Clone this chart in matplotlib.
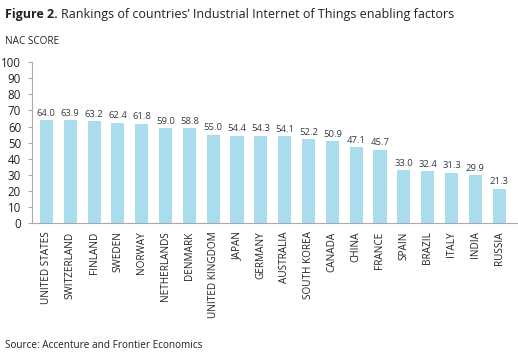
import matplotlib.pyplot as plt

countries = ["UNITED STATES", "SWITZERLAND", "FINLAND", "SWEDEN", "NORWAY",
             "NETHERLANDS", "DENMARK", "UNITED KINGDOM", "JAPAN", "GERMANY",
             "AUSTRALIA", "SOUTH KOREA", "CANADA", "CHINA", "FRANCE",
             "SPAIN", "BRAZIL", "ITALY", "INDIA", "RUSSIA"]
scores = [64.0, 63.9, 63.2, 62.4, 61.8, 59.0, 58.8, 55.0, 54.4, 54.3,
          54.1, 52.2, 50.9, 47.1, 45.7, 33.0, 32.4, 31.3, 29.9, 21.3]
y_ticks = list(range(0, 101, 10))

plt.rcParams['font.family'] = ['Open Sans', 'DejaVu Sans']

fig = plt.figure(figsize=(5.18, 3.57), dpi=100)
ax = fig.add_axes([0.062, 0.375, 0.936, 0.451])

x = range(len(countries))
bars = ax.bar(x, scores, width=0.55, color="#a9dcec")
for xi, v in zip(x, scores):
    ax.text(xi, v + 1.5, f"{v:.1f}", ha="center", va="bottom",
            fontsize=6.8, color="#333d47")

ax.set_xlim(-0.6, 19.75)
ax.set_ylim(0, 100)
ax.set_yticks(y_ticks)
ax.set_xticks(list(x))
ax.set_xticklabels(countries, rotation=90, fontsize=7.2, color="#222222")
ax.tick_params(axis="y", labelsize=8.3, length=3, color="#aaaaaa", width=0.8,
               pad=5, labelcolor="#222222")
ax.tick_params(axis="x", length=0, pad=6)

for s in ["top", "right"]:
    ax.spines[s].set_visible(False)
ax.spines["left"].set_color("#aaaaaa")
ax.spines["bottom"].set_color("#aaaaaa")
ax.spines["left"].set_linewidth(0.8)
ax.spines["bottom"].set_linewidth(0.8)

fig.text(0.01, 0.96, "Figure 2.", fontsize=9, fontweight="bold",
         color="#222222", va="center")
fig.text(0.118, 0.96, "Rankings of countries\u2019 Industrial Internet of Things enabling factors",
         fontsize=9, color="#222222", va="center")
fig.text(0.01, 0.883, "NAC SCORE", fontsize=7.2, color="#222222", va="center")
fig.text(0.01, 0.033, "Source: Accenture and Frontier Economics", fontsize=7.2,
         color="#222222", va="center")

fig.savefig("out.png", dpi=100)
